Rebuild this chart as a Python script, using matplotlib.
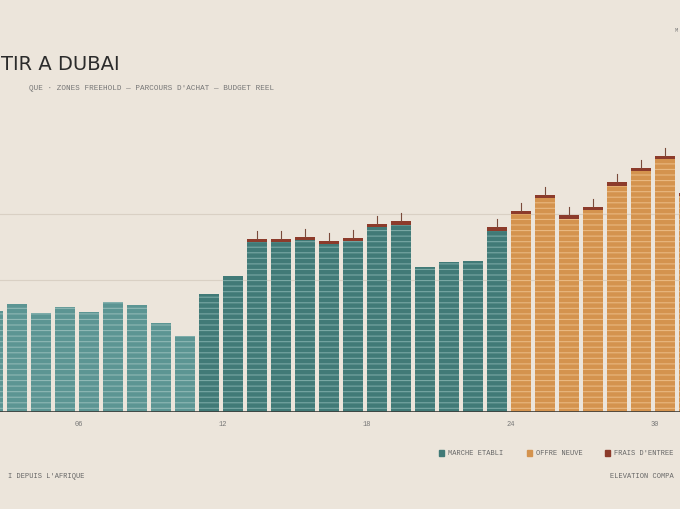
import numpy as np
import matplotlib.pyplot as plt

# ── data ─────────────────────────────────────────────────────────────────────
months = list(range(2, 32))
totals = [153, 164, 150, 159, 152, 167, 162, 135, 115, 179, 206,
          262, 262, 265, 259, 264, 285, 289, 220, 227, 229, 280,
          305, 329, 298, 311, 348, 370, 388, 332]
# 0 = marche etabli (light), 1 = marche etabli (dark), 2 = offre neuve
segment = [0] * 9 + [1] * 13 + [2] * 8
fees = [0] * 11 + [5] * 7 + [0] * 3 + [5] * 9
tick_vals = [6, 12, 18, 24, 30]
tick_labels = ["06", "12", "18", "24", "30"]

BG = "#ece5db"
COLORS = {0: "#5c9593", 1: "#417a77", 2: "#d4934e"}
HATCH = {0: "#8fb8b5", 1: "#79a8a4", 2: "#e9b880"}
FEE = "#8c3b2b"
MONO = ["Liberation Mono", "DejaVu Sans Mono"]

plt.rcParams["hatch.linewidth"] = 0.8

fig = plt.figure(figsize=(6.8, 5.1), dpi=100)
fig.patch.set_facecolor(BG)

# axes extends past the figure edges (cropped view)
W, H = 680, 510
px_per_unit = 24
x0_val = 24 - 511 / px_per_unit
x1_val = 24 + (W - 511) / px_per_unit
ax = fig.add_axes([0, (H - 413) / H, 1, 313 / H])
ax.set_facecolor("none")
ax.set_xlim(x0_val, x1_val)
ax.set_ylim(0, 313 / 0.66)

for y in (200, 300):
    ax.axhline(y, color="#d9d0c4", lw=0.8, zorder=0)

for m, t, s, f in zip(months, totals, segment, fees):
    base = t - f
    ax.bar(m, base, width=0.82, align="edge", color=COLORS[s],
           edgecolor=HATCH[s], hatch="---", linewidth=0, zorder=2)
    if f:
        ax.bar(m, f, bottom=base, width=0.82, align="edge", color=FEE,
               linewidth=0, zorder=3)
        ax.plot([m + 0.41] * 2, [t, t + 12], color="#7a4a3a", lw=0.8, zorder=3)

ax.axhline(0, color="#3d3d3a", lw=1.2, zorder=4)
for s in ax.spines.values():
    s.set_visible(False)
ax.set_yticks([])
ax.set_xticks(tick_vals)
ax.set_xticklabels(tick_labels, family=MONO, fontsize=5, color="#777")
ax.tick_params(axis="x", length=0, pad=6)

# ── text (only the parts visible in the cropped view) ────────────────────────
fig.text(1 / W, 1 - 64 / H, "TIR A DUBAI", ha="left", va="center",
         fontsize=14, color="#2b2b2b", family="DejaVu Sans")
fig.text(274 / W, 1 - 89 / H,
         "QUE · ZONES FREEHOLD — PARCOURS D'ACHAT — BUDGET REEL",
         ha="right", va="center", fontsize=5.5, color="#777", family=MONO)
fig.text(675 / W, 1 - 30 / H, "M", ha="left", va="center",
         fontsize=4, color="#777", family=MONO)
fig.text(84 / W, 1 - 477 / H, "I DEPUIS L'AFRIQUE", ha="right",
         va="center", fontsize=5, color="#666", family=MONO)
fig.text(610 / W, 1 - 477 / H, "ELEVATION COMPA", ha="left",
         va="center", fontsize=5, color="#666", family=MONO)

legend = [("MARCHE ETABLI", COLORS[1], 439), ("OFFRE NEUVE", COLORS[2], 527),
          ("FRAIS D'ENTREE", FEE, 605)]
for label, col, xp in legend:
    fig.patches.append(plt.Rectangle((xp / W, 1 - 457 / H), 5 / W, 6 / H,
                                     transform=fig.transFigure, color=col))
    fig.text((xp + 9) / W, 1 - 454 / H, label, ha="left", va="center",
             fontsize=5, color="#666", family=MONO)

fig.savefig("out.png", dpi=100, facecolor=BG)
